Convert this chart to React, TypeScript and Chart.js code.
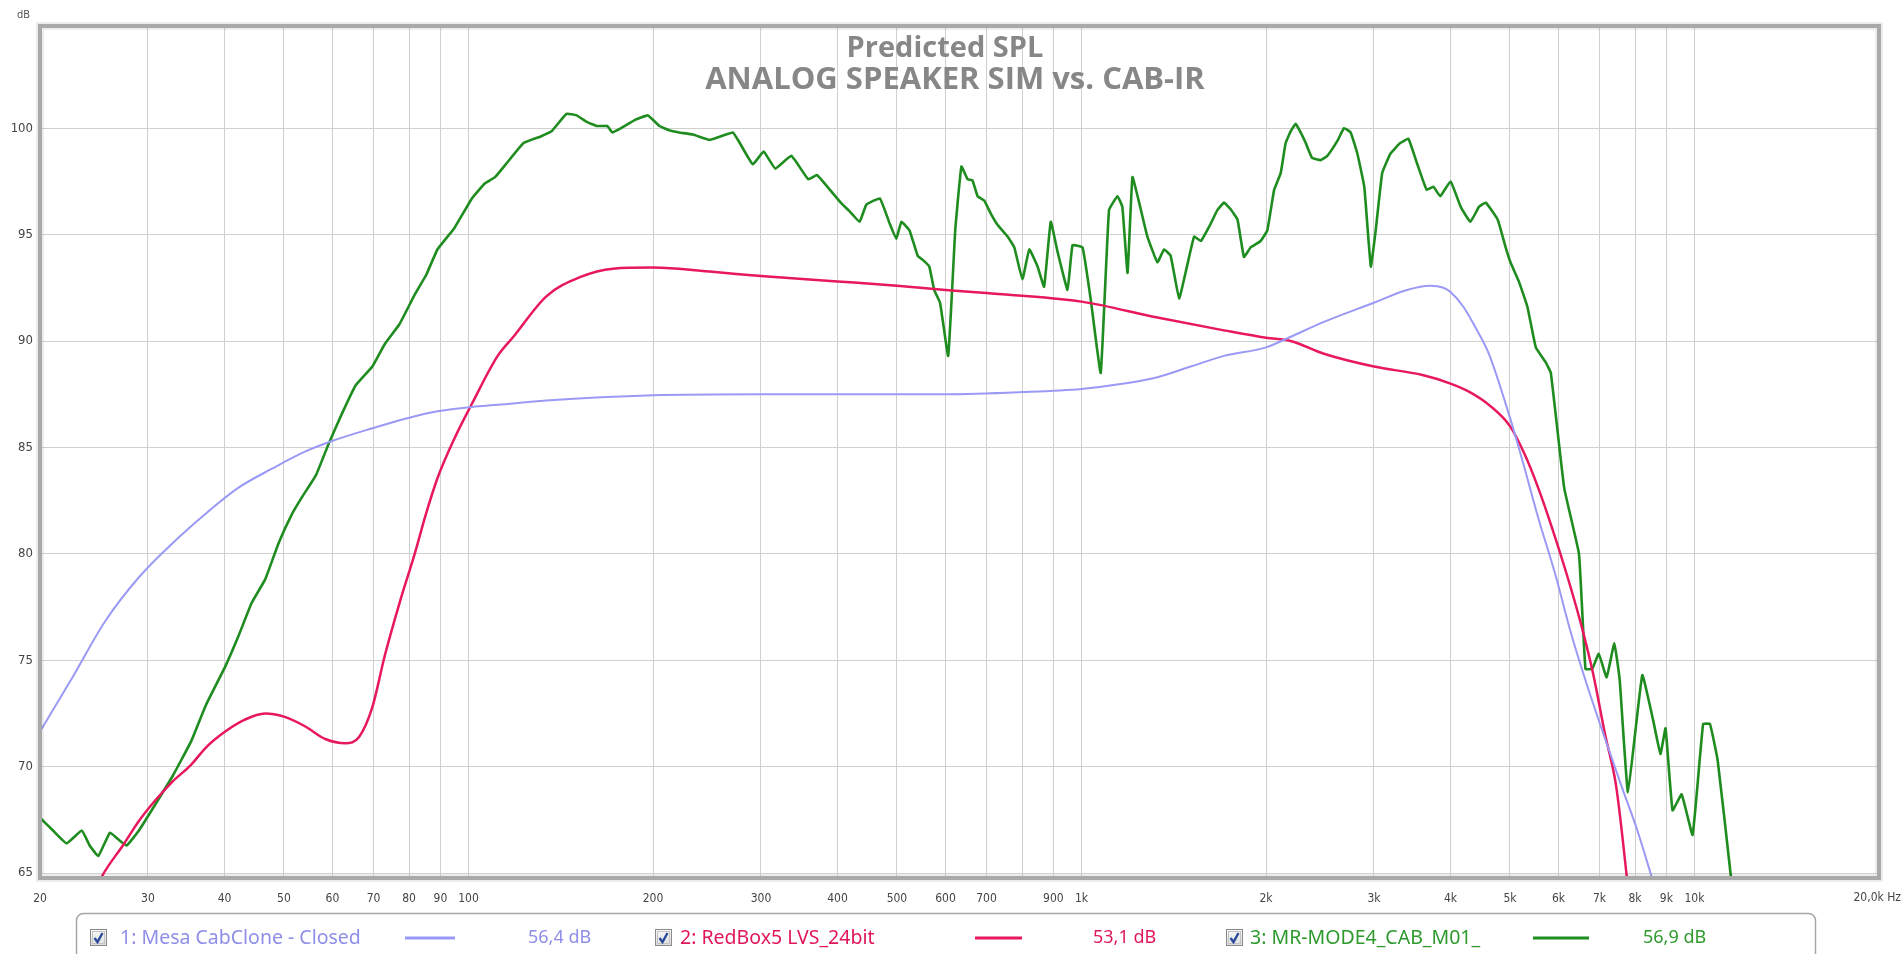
import { useEffect, useRef } from 'react';
import { Chart, registerables } from 'chart.js';
Chart.register(...registerables);

const W = 1901;
const H = 954;

// ---- data (frequency in Hz, level in dB) ----
const mesaFreq = [20, 22.6, 25.5, 29, 32.9, 37.3, 42.1, 47.8, 54.1, 59.9, 69.7, 78.9, 89, 101.3, 111.6, 134, 200, 300, 400, 600, 800, 1000, 1174, 1330, 1507, 1708, 2000, 2194, 2486, 3000, 3396, 3708, 3895, 4000, 4200, 4400, 4620, 5000, 5250, 5560, 5920, 6300, 6720, 7150, 7600, 8070, 8500, 8800];
const mesaDb = [71.65, 74.2, 76.8, 78.9, 80.5, 81.9, 83.1, 84.0, 84.8, 85.3, 85.9, 86.35, 86.7, 86.9, 87.0, 87.2, 87.45, 87.5, 87.5, 87.5, 87.6, 87.75, 88.0, 88.3, 88.8, 89.3, 89.7, 90.2, 90.9, 91.8, 92.4, 92.6, 92.5, 92.3, 91.6, 90.6, 89.4, 86.4, 84.3, 81.7, 79.1, 76.2, 73.6, 71.3, 69.1, 67.0, 64.9, 63.5];

const redFreq = [24, 25.3, 27.3, 29, 30.8, 32.9, 35.3, 37.3, 40.1, 43.1, 46.6, 50, 54.1, 58.4, 63, 66.3, 69.7, 73, 77.2, 81.8, 85.3, 89, 94.8, 101.3, 111.6, 118.4, 134, 152, 172, 200, 250, 300, 400, 500, 600, 700, 1000, 1330, 1708, 2000, 2194, 2486, 3000, 3600, 4000, 4300, 4620, 5000, 5280, 5560, 5860, 6180, 6530, 6830, 7150, 7450, 7750, 7900];
const redDb = [63.5, 64.9, 66.3, 67.45, 68.4, 69.3, 70.1, 70.9, 71.65, 72.2, 72.5, 72.35, 71.9, 71.3, 71.1, 71.4, 72.8, 75.2, 77.7, 80.05, 81.9, 83.55, 85.4, 87.05, 89.3, 90.2, 92.1, 93.0, 93.4, 93.45, 93.25, 93.05, 92.8, 92.6, 92.4, 92.25, 91.85, 91.1, 90.5, 90.15, 90.0, 89.4, 88.8, 88.4, 88.0, 87.6, 87.0, 86.0, 84.7, 83.1, 81.2, 79.1, 76.7, 74.4, 71.5, 69.1, 64.9, 62.5];

const mrFreq = [20, 21, 22.1, 23.4, 24.1, 24.9, 26, 26.8, 27.7, 29, 30.8, 32.9, 35.3, 37.3, 40.1, 42.1, 44.3, 46.6, 49, 51.6, 53.6, 56.4, 59.2, 62.2, 65.4, 69.7, 73, 77.2, 81.8, 85.3, 89, 94.8, 101.3, 106.3, 110.5, 115.4, 123, 130.9, 136.6, 144.5, 150.1, 155.9, 162, 168.4, 171.6, 177.4, 187.3, 196.3, 204.9, 212.6, 220.6, 232.4, 247.3, 256.8, 270, 277.1, 291, 303, 316.6, 336.2, 358.3, 370.2, 383.6, 404.8, 418.2, 434.6, 445.6, 469, 486.8, 498.8, 508.4, 524.1, 540.6, 551.6, 564.6, 575, 587.9, 606.2, 622.4, 637, 652, 664, 677, 694, 711, 730, 758, 777, 801, 822, 848, 869, 891, 914, 949, 967, 1004, 1036, 1075, 1109, 1145, 1166, 1189, 1211, 1242, 1281, 1330, 1364, 1398, 1443, 1489, 1527, 1566, 1624, 1666, 1708, 1750, 1797, 1841, 1888, 1960, 2010, 2062, 2114, 2153, 2194, 2236, 2278, 2322, 2378, 2456, 2518, 2615, 2681, 2748, 2819, 2893, 2965, 3020, 3095, 3191, 3311, 3415, 3522, 3657, 3751, 3848, 4000, 4156, 4310, 4450, 4566, 4776, 4920, 5010, 5170, 5340, 5510, 5720, 5830, 6130, 6480, 6640, 6810, 6980, 7190, 7400, 7550, 7790, 8220, 8560, 8800, 8970, 9210, 9530, 9930, 10330, 10600, 10910, 11460, 11700];
const mrDb = [67.6, 67.0, 66.4, 67.0, 66.3, 65.8, 66.9, 66.6, 66.3, 67.0, 68.2, 69.55, 71.2, 72.9, 74.7, 76.1, 77.7, 78.8, 80.5, 81.9, 82.7, 83.7, 85.2, 86.6, 87.9, 88.8, 89.85, 90.8, 92.2, 93.1, 94.3, 95.3, 96.7, 97.4, 97.7, 98.35, 99.3, 99.6, 99.85, 100.67, 100.6, 100.3, 100.1, 100.1, 99.8, 100.0, 100.4, 100.6, 100.1, 99.9, 99.8, 99.7, 99.45, 99.6, 99.8, 99.3, 98.3, 98.9, 98.1, 98.7, 97.6, 97.8, 97.3, 96.5, 96.1, 95.6, 96.4, 96.7, 95.5, 94.8, 95.6, 95.2, 94.0, 93.8, 93.5, 92.4, 91.8, 89.3, 95.2, 98.2, 97.6, 97.55, 96.8, 96.6, 96.0, 95.45, 94.9, 94.4, 92.9, 94.3, 93.5, 92.55, 95.6, 94.2, 92.4, 94.5, 94.4, 91.9, 88.5, 96.15, 96.8, 96.3, 93.2, 97.7, 96.5, 94.9, 93.7, 94.3, 94.0, 92.0, 93.6, 94.9, 94.7, 95.5, 96.15, 96.5, 96.2, 95.7, 93.95, 94.4, 94.7, 95.2, 97.1, 97.9, 99.3, 99.85, 100.2, 99.8, 99.3, 98.6, 98.5, 98.7, 99.4, 100.0, 99.8, 98.8, 97.25, 93.5, 95.2, 97.9, 98.8, 99.3, 99.5, 98.4, 97.1, 97.25, 96.8, 97.5, 96.3, 95.6, 96.3, 96.5, 95.7, 94.4, 93.7, 92.8, 91.6, 89.7, 89.0, 88.5, 83.1, 80.0, 74.6, 74.6, 75.3, 74.2, 75.8, 74.1, 68.8, 74.3, 72.2, 70.6, 71.8, 67.95, 68.7, 66.8, 72.0, 72.0, 70.3, 64.9, 62.0];

const xTickValues = [20, 30, 40, 50, 60, 70, 80, 90, 100, 200, 300, 400, 500, 600, 700, 800, 900, 1000, 2000, 3000, 4000, 5000, 6000, 7000, 8000, 9000, 10000, 20000];
const xTickLabels = ['20', '30', '40', '50', '60', '70', '80', '90', '100', '200', '300', '400', '500', '600', '700', '', '900', '1k', '2k', '3k', '4k', '5k', '6k', '7k', '8k', '9k', '10k', ''];
const yTickValues = [65, 70, 75, 80, 85, 90, 95, 100];

const seriesNames = ['1: Mesa CabClone - Closed', '2: RedBox5 LVS_24bit', '3: MR-MODE4_CAB_M01_'];
const seriesLevels = ['56,4 dB', '53,1 dB', '56,9 dB'];

const BLUE = '#9a9af6';
const RED = '#e8185e';
const GREEN = '#1f8c1f';
const LEGEND_TEXT = ['#8e8ee8', '#e0175a', '#2e9a2e'];

const TICK_FONT = "'DejaVu Sans Condensed', 'DejaVu Sans', sans-serif";
const UI_FONT = "'Noto Sans', 'Open Sans', sans-serif";

const pts = (f: number[], d: number[]) => f.map((x, i) => ({ x, y: d[i] }));

const decorPlugin = {
  id: 'decor',
  afterDatasetsDraw(chart: any) {
    const { ctx, chartArea: a } = chart;
    ctx.save();
    ctx.strokeStyle = 'rgba(0,0,0,0.07)';
    ctx.lineWidth = 8;
    ctx.strokeRect(a.left, a.top, a.right - a.left, a.bottom - a.top);
    ctx.strokeStyle = '#a9a9a9';
    ctx.lineWidth = 4;
    ctx.strokeRect(a.left, a.top, a.right - a.left, a.bottom - a.top);
    ctx.restore();
  },
  afterDraw(chart: any) {
    const { ctx, chartArea: a } = chart;
    ctx.save();
    // title
    ctx.fillStyle = '#878787';
    ctx.textAlign = 'center';
    ctx.textBaseline = 'alphabetic';
    ctx.font = "bold 29px 'Open Sans', 'Noto Sans', sans-serif";
    ctx.fillText('Predicted SPL', 945, 57);
    ctx.font = "bold 31px 'Open Sans', 'Noto Sans', sans-serif";
    ctx.fillText('ANALOG SPEAKER SIM vs. CAB-IR', 955, 89);

    // dB unit label
    ctx.fillStyle = '#555';
    ctx.font = `11px ${TICK_FONT}`;
    ctx.textAlign = 'left';
    ctx.fillText('dB', 17, 18);

    // last x label
    ctx.fillStyle = '#444';
    ctx.font = `12px ${TICK_FONT}`;
    ctx.textAlign = 'right';
    ctx.textBaseline = 'top';
    ctx.fillText('20,0k Hz', 1901, a.bottom + 14);

    // legend box
    ctx.strokeStyle = '#a6a6a6';
    ctx.lineWidth = 1.5;
    ctx.beginPath();
    (ctx as any).roundRect(76.5, 913.5, 1739, 80, 7);
    ctx.stroke();

    const cols = [
      { cb: 90, text: 120, l1: 405, l2: 455, val: 528, color: BLUE },
      { cb: 655, text: 680, l1: 975, l2: 1022, val: 1093, color: RED },
      { cb: 1226, text: 1250, l1: 1533, l2: 1589, val: 1643, color: GREEN },
    ];
    const cy = 938;
    cols.forEach((c, i) => {
      const bx = c.cb, by = 929, bs = 17;
      const g = ctx.createLinearGradient(0, by, 0, by + bs);
      g.addColorStop(0, '#fafafa');
      g.addColorStop(1, '#dcdcdc');
      ctx.fillStyle = g;
      ctx.fillRect(bx, by, bs, bs);
      ctx.strokeStyle = '#8a8a8a';
      ctx.lineWidth = 1;
      ctx.strokeRect(bx + 0.5, by + 0.5, bs - 1, bs - 1);
      ctx.strokeStyle = '#c4c4c4';
      ctx.strokeRect(bx + 2.5, by + 2.5, bs - 5, bs - 5);
      ctx.strokeStyle = '#2b4a9c';
      ctx.lineWidth = 2.4;
      ctx.beginPath();
      ctx.moveTo(bx + 4.5, by + 9);
      ctx.lineTo(bx + 7.5, by + 13);
      ctx.lineTo(bx + 12.5, by + 4);
      ctx.stroke();
      ctx.fillStyle = LEGEND_TEXT[i];
      ctx.font = `19.5px ${UI_FONT}`;
      ctx.textAlign = 'left';
      ctx.textBaseline = 'middle';
      ctx.fillText(seriesNames[i], c.text, cy);
      ctx.strokeStyle = c.color;
      ctx.lineWidth = 3;
      ctx.beginPath();
      ctx.moveTo(c.l1, cy);
      ctx.lineTo(c.l2, cy);
      ctx.stroke();
      ctx.font = `18px ${UI_FONT}`;
      ctx.fillText(seriesLevels[i], c.val, cy);
    });
    ctx.restore();
  },
};

export default function App() {
  const ref = useRef<HTMLCanvasElement>(null);
  useEffect(() => {
    const chart = new Chart(ref.current as HTMLCanvasElement, {
      type: 'line',
      data: {
        datasets: [
          { label: seriesNames[0], data: pts(mesaFreq, mesaDb), borderColor: BLUE, borderWidth: 2, cubicInterpolationMode: 'monotone', clip: 0 } as any,
          { label: seriesNames[1], data: pts(redFreq, redDb), borderColor: RED, borderWidth: 2.5, cubicInterpolationMode: 'monotone', clip: 0 } as any,
          { label: seriesNames[2], data: pts(mrFreq, mrDb), borderColor: GREEN, borderWidth: 2.6, tension: 0.1, clip: 0 } as any,
        ],
      },
      options: {
        responsive: false,
        animation: false,
        layout: { padding: { left: 0, top: 26, right: 22, bottom: 0 } },
        plugins: { legend: { display: false }, title: { display: false }, tooltip: { enabled: false } },
        elements: { point: { radius: 0 }, line: { borderJoinStyle: 'round', borderCapStyle: 'round' } },
        scales: {
          x: {
            type: 'logarithmic',
            position: 'bottom',
            min: 20,
            max: 20000,
            afterBuildTicks: (s: any) => { s.ticks = xTickValues.map((v) => ({ value: v })); },
            afterFit: (s: any) => { s.height = 76; s.paddingLeft = 0; s.paddingRight = 0; },
            ticks: {
              autoSkip: false,
              maxRotation: 0,
              minRotation: 0,
              padding: 14,
              color: '#444',
              font: { family: TICK_FONT, size: 12 },
              callback: (_v: any, i: number) => xTickLabels[i],
            },
            grid: { color: '#d0d0d0', lineWidth: 1, drawTicks: false },
            border: { display: false },
          },
          y: {
            type: 'linear',
            position: 'left',
            min: 64.77,
            max: 104.8,
            afterBuildTicks: (s: any) => { s.ticks = yTickValues.map((v) => ({ value: v })); },
            afterFit: (s: any) => { s.width = 40; },
            ticks: {
              padding: 7,
              color: '#444',
              font: { family: TICK_FONT, size: 13 },
              callback: (v: any) => String(v),
            },
            grid: { color: '#d0d0d0', lineWidth: 1, drawTicks: false },
            border: { display: false },
          },
        },
      },
      plugins: [decorPlugin],
    } as any);
    return () => chart.destroy();
  }, []);
  return (
    <div style={{ position: 'fixed', left: 0, top: 0, width: W, height: H, background: '#fff' }}>
      <canvas ref={ref} width={W} height={H} style={{ width: W, height: H, display: 'block' }} />
    </div>
  );
}
